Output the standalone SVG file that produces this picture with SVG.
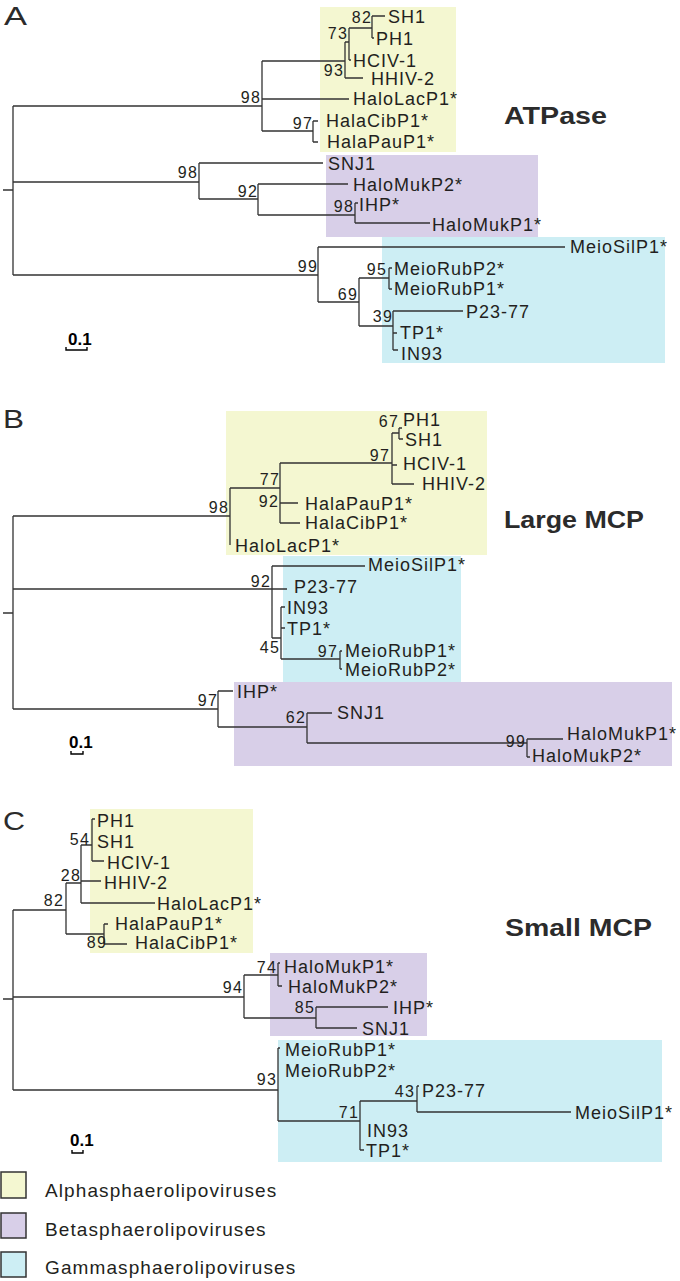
<svg xmlns="http://www.w3.org/2000/svg" width="680" height="1281" viewBox="0 0 680 1281">
<style>
text{font-family:"Liberation Sans",Arial,sans-serif;fill:#231f20}
.br{fill:none;stroke:#333;stroke-width:1.3}
.lf{font-size:18px;letter-spacing:1px}
.bs{font-size:16px;letter-spacing:1.2px;text-anchor:end}
.ttl{font-size:24px;font-weight:bold;fill:#2b2b2b}
.pl{font-size:25px;fill:#2b2b2b}
.sb{font-size:17px;font-weight:bold;fill:#000}
.sbb{fill:none;stroke:#000;stroke-width:1.4}
.lg{font-size:19px;letter-spacing:1.1px}
.ya{fill:#f4f7d1}
.pu{fill:#d8cfe8}
.cy{fill:#cdeef4}
.lgb{stroke:#333;stroke-width:1.5}
</style>

<!-- clade highlight boxes -->
<g id="boxes">
<rect class="ya" x="320" y="7" width="136" height="145"/>
<rect class="pu" x="326" y="155" width="212" height="82"/>
<rect class="cy" x="382" y="237" width="283" height="126"/>
<rect class="ya" x="226" y="411" width="261" height="144"/>
<rect class="cy" x="283" y="556" width="178" height="126"/>
<rect class="pu" x="234" y="682" width="438" height="84"/>
<rect class="ya" x="90" y="809" width="163" height="144"/>
<rect class="pu" x="270" y="953" width="157" height="83"/>
<rect class="cy" x="278" y="1040" width="384" height="122"/>
</g>

<!-- connectors -->
<g id="connectors" class="br">
<!-- Panel A -->
<path d="M3,190H13M13,106V275"/>
<path d="M13,106H262M262,61V131M262,61H345M345,42V78M345,42H349M349,28V60M349,28H372M372,16V38M372,16H385M372,38H374M349,60H351M345,78H363M262,99H349M262,131H313M313,121V142M313,121H318M313,142H318"/>
<path d="M13,182H199M199,163V199M199,163H323M199,199H258M258,184V215M258,184H348M258,215H355M355,203V223M355,203H358M355,223H430"/>
<path d="M13,275H318M318,247V302M318,247H565M318,302H359M359,278V326M359,278H389M389,268V289M389,268H392M389,289H392M359,326H393M393,311V350M393,311H463M393,333H397M393,350H398"/>
<!-- Panel B -->
<path d="M3,613H13M13,516V709"/>
<path d="M13,516H230M230,488V545M230,488H280M280,463V523M280,463H392M392,433V484M392,433H399M399,428V439M399,428H402M399,439H403M392,465H397M392,484H414M280,503H298M280,523H300"/>
<path d="M13,589H272M272,566V638M272,566H365M272,589H287M272,638H281M281,607V659M281,607H285M281,628H285M281,659H340M340,651V669M340,651H342M340,669H342"/>
<path d="M13,709H218M218,691V727M218,691H233M218,727H307M307,713V743M307,713H332M307,743H527M527,739V757M527,739H563M527,757H530"/>
<!-- Panel C -->
<path d="M3,999H13M13,910V1090"/>
<path d="M13,910H66M66,883V934M66,883H81M81,845V903M81,845H92M92,819V861M92,819H95M92,861H104M81,881H101M81,903H155M66,934H104M104,924V944M104,924H108M104,944H127"/>
<path d="M13,997H244M244,975V1018M244,975H278M278,963V986M278,963H280M278,986H282M244,1018H316M316,1007V1028M316,1007H388M316,1028H357"/>
<path d="M13,1090H278M278,1048V1121M278,1048H280M278,1121H360M360,1101V1150M360,1101H417M417,1086V1112M417,1086H419M417,1112H571M360,1150H364"/>
</g>

<!-- Panel A -->
<g id="panelA">
<text class="pl" x="4" y="25" textLength="23" lengthAdjust="spacingAndGlyphs">A</text>
<text class="ttl" x="504" y="124" textLength="103" lengthAdjust="spacingAndGlyphs">ATPase</text>
<g id="A-SH1"><text class="lf" x="388" y="23">SH1</text></g>
<g id="A-PH1"><text class="lf" x="376" y="45">PH1</text></g>
<g id="A-HCIV-1"><text class="lf" x="353" y="67">HCIV-1</text></g>
<g id="A-HHIV-2"><text class="lf" x="371" y="85">HHIV-2</text></g>
<g id="A-HaloLacP1"><text class="lf" x="353" y="105">HaloLacP1*</text></g>
<g id="A-HalaCibP1"><text class="lf" x="326" y="127">HalaCibP1*</text></g>
<g id="A-HalaPauP1"><text class="lf" x="327" y="148">HalaPauP1*</text></g>
<g id="A-SNJ1"><text class="lf" x="328" y="170">SNJ1</text></g>
<g id="A-HaloMukP2"><text class="lf" x="353" y="191">HaloMukP2*</text></g>
<g id="A-IHP"><text class="lf" x="359" y="211">IHP*</text></g>
<g id="A-HaloMukP1"><text class="lf" x="432" y="231">HaloMukP1*</text></g>
<g id="A-MeioSilP1"><text class="lf" x="570" y="253">MeioSilP1*</text></g>
<g id="A-MeioRubP2"><text class="lf" x="394" y="275">MeioRubP2*</text></g>
<g id="A-MeioRubP1"><text class="lf" x="394" y="295">MeioRubP1*</text></g>
<g id="A-P23-77"><text class="lf" x="466" y="318">P23-77</text></g>
<g id="A-TP1"><text class="lf" x="400" y="339">TP1*</text></g>
<g id="A-IN93"><text class="lf" x="401" y="360">IN93</text></g>
<g id="A-support">
<text class="bs" x="372" y="23">82</text>
<text class="bs" x="348" y="39">73</text>
<text class="bs" x="344" y="76">93</text>
<text class="bs" x="261" y="103">98</text>
<text class="bs" x="313" y="129">97</text>
<text class="bs" x="198" y="178">98</text>
<text class="bs" x="258" y="197">92</text>
<text class="bs" x="354" y="212">98</text>
<text class="bs" x="318" y="272">99</text>
<text class="bs" x="358" y="300">69</text>
<text class="bs" x="387" y="275">95</text>
<text class="bs" x="393" y="322">39</text>
</g>
<g id="A-scale"><text class="sb" x="68" y="345">0.1</text><path class="sbb" d="M66,347V350H87V347"/></g>
</g>

<!-- Panel B -->
<g id="panelB">
<text class="pl" x="3" y="428" textLength="21" lengthAdjust="spacingAndGlyphs">B</text>
<text class="ttl" x="504" y="528" textLength="140" lengthAdjust="spacingAndGlyphs">Large MCP</text>
<g id="B-PH1"><text class="lf" x="403" y="426">PH1</text></g>
<g id="B-SH1"><text class="lf" x="405" y="446">SH1</text></g>
<g id="B-HCIV-1"><text class="lf" x="403" y="470">HCIV-1</text></g>
<g id="B-HHIV-2"><text class="lf" x="422" y="490">HHIV-2</text></g>
<g id="B-HalaPauP1"><text class="lf" x="305" y="510">HalaPauP1*</text></g>
<g id="B-HalaCibP1"><text class="lf" x="305" y="529">HalaCibP1*</text></g>
<g id="B-HaloLacP1"><text class="lf" x="235" y="552">HaloLacP1*</text></g>
<g id="B-MeioSilP1"><text class="lf" x="368" y="571">MeioSilP1*</text></g>
<g id="B-P23-77"><text class="lf" x="294" y="593">P23-77</text></g>
<g id="B-IN93"><text class="lf" x="287" y="614">IN93</text></g>
<g id="B-TP1"><text class="lf" x="287" y="635">TP1*</text></g>
<g id="B-MeioRubP1"><text class="lf" x="345" y="657">MeioRubP1*</text></g>
<g id="B-MeioRubP2"><text class="lf" x="345" y="676">MeioRubP2*</text></g>
<g id="B-IHP"><text class="lf" x="237" y="698">IHP*</text></g>
<g id="B-SNJ1"><text class="lf" x="337" y="719">SNJ1</text></g>
<g id="B-HaloMukP1"><text class="lf" x="567" y="740">HaloMukP1*</text></g>
<g id="B-HaloMukP2"><text class="lf" x="532" y="762">HaloMukP2*</text></g>
<g id="B-support">
<text class="bs" x="229" y="513">98</text>
<text class="bs" x="280" y="485">77</text>
<text class="bs" x="279" y="507">92</text>
<text class="bs" x="390" y="461">97</text>
<text class="bs" x="399" y="427">67</text>
<text class="bs" x="271" y="587">92</text>
<text class="bs" x="280" y="653">45</text>
<text class="bs" x="338" y="657">97</text>
<text class="bs" x="218" y="706">97</text>
<text class="bs" x="306" y="723">62</text>
<text class="bs" x="526" y="747">99</text>
</g>
<g id="B-scale"><text class="sb" x="69" y="748">0.1</text><path class="sbb" d="M71,751V754H83V751"/></g>
</g>

<!-- Panel C -->
<g id="panelC">
<text class="pl" x="3" y="830" textLength="22" lengthAdjust="spacingAndGlyphs">C</text>
<text class="ttl" x="505" y="936" textLength="147" lengthAdjust="spacingAndGlyphs">Small MCP</text>
<g id="C-PH1"><text class="lf" x="97" y="827">PH1</text></g>
<g id="C-SH1"><text class="lf" x="97" y="848">SH1</text></g>
<g id="C-HCIV-1"><text class="lf" x="107" y="869">HCIV-1</text></g>
<g id="C-HHIV-2"><text class="lf" x="104" y="889">HHIV-2</text></g>
<g id="C-HaloLacP1"><text class="lf" x="157" y="910">HaloLacP1*</text></g>
<g id="C-HalaPauP1"><text class="lf" x="115" y="930">HalaPauP1*</text></g>
<g id="C-HalaCibP1"><text class="lf" x="135" y="949">HalaCibP1*</text></g>
<g id="C-HaloMukP1"><text class="lf" x="284" y="973">HaloMukP1*</text></g>
<g id="C-HaloMukP2"><text class="lf" x="288" y="993">HaloMukP2*</text></g>
<g id="C-IHP"><text class="lf" x="393" y="1014">IHP*</text></g>
<g id="C-SNJ1"><text class="lf" x="362" y="1035">SNJ1</text></g>
<g id="C-MeioRubP1"><text class="lf" x="285" y="1056">MeioRubP1*</text></g>
<g id="C-MeioRubP2"><text class="lf" x="285" y="1077">MeioRubP2*</text></g>
<g id="C-P23-77"><text class="lf" x="422" y="1097">P23-77</text></g>
<g id="C-MeioSilP1"><text class="lf" x="575" y="1119">MeioSilP1*</text></g>
<g id="C-IN93"><text class="lf" x="367" y="1137">IN93</text></g>
<g id="C-TP1"><text class="lf" x="366" y="1157">TP1*</text></g>
<g id="C-support">
<text class="bs" x="64" y="906">82</text>
<text class="bs" x="81" y="881">28</text>
<text class="bs" x="90" y="845">54</text>
<text class="bs" x="107" y="948">89</text>
<text class="bs" x="243" y="993">94</text>
<text class="bs" x="277" y="973">74</text>
<text class="bs" x="315" y="1013">85</text>
<text class="bs" x="277" y="1085">93</text>
<text class="bs" x="359" y="1118">71</text>
<text class="bs" x="415" y="1097">43</text>
</g>
<g id="C-scale"><text class="sb" x="70" y="1146">0.1</text><path class="sbb" d="M72,1150V1153H83V1150"/></g>
</g>

<!-- Legend -->
<g id="legend">
<g id="legend-alpha"><rect class="ya lgb" x="1" y="1172" width="25" height="26"/><text class="lg" x="45" y="1197">Alphasphaerolipoviruses</text></g>
<g id="legend-beta"><rect class="pu lgb" x="1" y="1213" width="25" height="25"/><text class="lg" x="45" y="1236">Betasphaerolipoviruses</text></g>
<g id="legend-gamma"><rect class="cy lgb" x="1" y="1252" width="25" height="25"/><text class="lg" x="45" y="1274">Gammasphaerolipoviruses</text></g>
</g>
</svg>
